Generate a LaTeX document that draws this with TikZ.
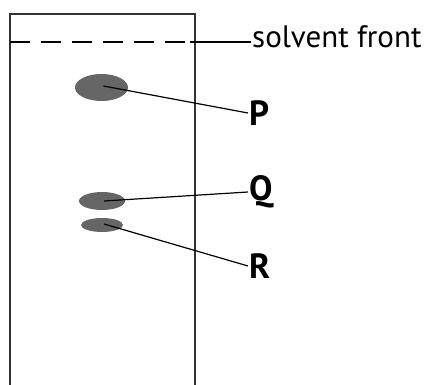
\documentclass[tikz,border=0pt]{standalone}
\usepackage{fontspec}
\setmainfont{PT Sans}
\usetikzlibrary{shapes.geometric}

\begin{document}
\begin{tikzpicture}[x=1pt,y=-1pt]

% Colori
\definecolor{colSpot}{HTML}{666666}
\definecolor{colPaper}{HTML}{333333}

\tikzset{
  spot/.style={ellipse, fill=colSpot, inner sep=0pt},
  leader/.style={black, line width=1.2pt},
  lbl/.style={anchor=west, inner sep=1pt, font=\fontsize{35}{40}\selectfont\bfseries},
}

\useasboundingbox (0,0) rectangle (426,385);

% Carta
\draw[colPaper, line width=2pt] (9.5,386) -- (9.5,14) -- (195,14) -- (195,386);

% Fronte del solvente
\coordinate (front) at (190,42);
\draw[black, line width=1.2pt, dash pattern=on 20pt off 11pt] (10,42) -- (front);
\node[anchor=base west, inner sep=1pt, font=\fontsize{31}{36}\selectfont] (sf) at (251,48) {solvent front};
\draw[leader] (front) -- (sf.west |- front);

% Macchie
\node[spot, minimum width=53pt, minimum height=27pt] (spotP) at (101.5,87.5) {};
\node[spot, minimum width=46pt, minimum height=18pt] (spotQ) at (102,201) {};
\node[spot, minimum width=42pt, minimum height=14pt] (spotR) at (102,225) {};

% Etichette
\node[lbl] (P) at (248,113) {P};
\node[lbl] (Q) at (248,192) {Q};
\node[lbl] (R) at (248,266) {R};

\draw[leader] ([xshift=2pt,yshift=1.5pt]spotP.center) -- (P.west);
\draw[leader] ([xshift=2pt]spotQ.center) -- (Q.west);
\draw[leader] ([xshift=2pt,yshift=1pt]spotR.center) -- (R.west);

\end{tikzpicture}
\end{document}
